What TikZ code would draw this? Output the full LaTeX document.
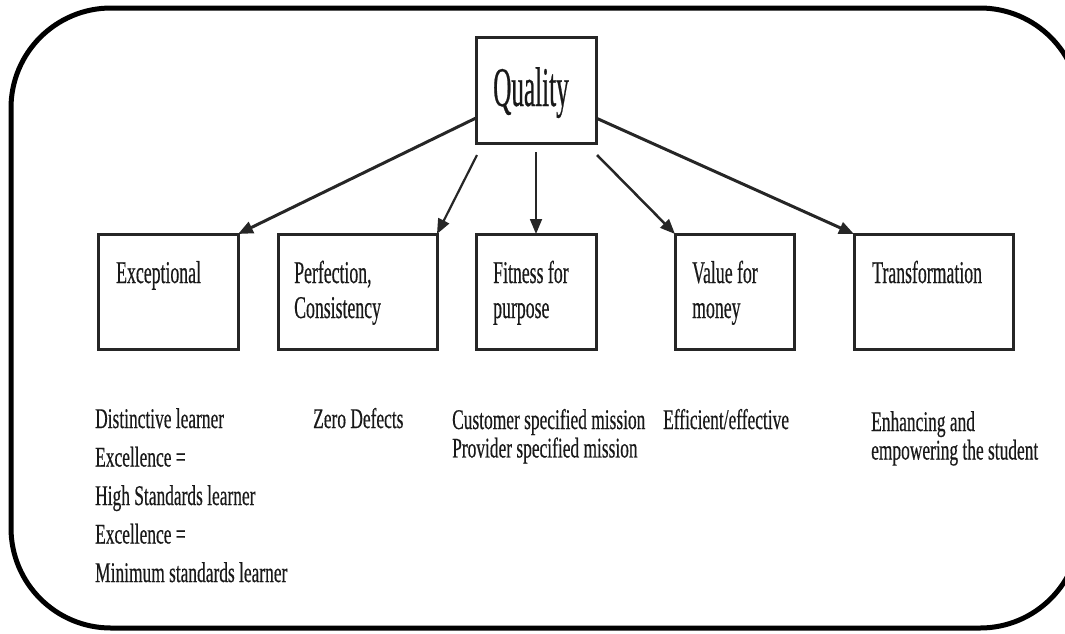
\documentclass[tikz,border=0pt]{standalone}
\usepackage{fontspec}
\setmainfont{Liberation Serif}
\newfontfamily\titlefont[FakeStretch=0.45,FakeBold=0.4]{Liberation Serif}
\newfontfamily\boxfont[FakeStretch=0.56,FakeBold=0.4]{Liberation Serif}
\newfontfamily\notefont[FakeStretch=0.61,FakeBold=0.4]{Liberation Serif}
\usetikzlibrary{arrows.meta,calc}

\tikzset{
  frame/.style={draw=black, line width=5pt, rounded corners=100pt},
  catbox/.style={draw=black!85, line width=3pt, inner sep=0pt, outer sep=0pt,
    minimum height=115pt},
  topbox/.style={draw=black!85, line width=3pt, inner sep=0pt, outer sep=0pt,
    minimum width=120pt, minimum height=106pt},
  boxlabel/.style={anchor=base west, inner sep=0pt, text=black!90,
    font=\boxfont\fontsize{31.7}{35}\selectfont},
  note/.style={anchor=base west, inner sep=0pt, text=black!90},
  link/.style={draw=black!85, -{Triangle[length=15pt,width=12pt]}},
}

\begin{document}
\begin{tikzpicture}[x=1pt,y=-1pt]
\useasboundingbox (0,0) rectangle (1065,633);
\clip (0,0) rectangle (1065,633);

% outer rounded frame (right edge runs past the page)
\draw[frame] (11,8) rectangle (1080,628);

% top concept
\node[topbox] (quality) at (536,90) {};
\node[anchor=base west, inner sep=0pt, text=black!90,
  font=\titlefont\fontsize{56}{60}\selectfont] (qlabel) at (493,106) {Quality};

% five conceptions of quality
\node[catbox, minimum width=140pt] (exc)   at (168,291.5) {};
\node[catbox, minimum width=159pt] (perf)  at (357.5,291.5) {};
\node[catbox, minimum width=120pt] (fit)   at (536,291.5) {};
\node[catbox, minimum width=119pt] (val)   at (734.5,291.5) {};
\node[catbox, minimum width=159pt] (trans) at (933.5,291.5) {};

\node[boxlabel] (excl)   at (116,283) {Exceptional};
\node[boxlabel] (perfl)  at (294,283) {\begin{tabular}[t]{@{}l@{}}Perfection,\\Consistency\end{tabular}};
\node[boxlabel] (fitl)   at (493,283) {\begin{tabular}[t]{@{}l@{}}Fitness for\\purpose\end{tabular}};
\node[boxlabel] (vall)   at (692,283) {\begin{tabular}[t]{@{}l@{}}Value for\\money\end{tabular}};
\node[boxlabel] (transl) at (872,283) {Transformation};

% connectors
\draw[link, line width=3pt]   ($(quality.south west)+(0,-25)$) -- (exc.north east);
\draw[link, line width=2.2pt] ($(quality.south west)+(1,12)$)  -- (perf.north east);
\draw[link, line width=1.8pt] ($(quality.south)+(0,9)$)        -- (fit.north);
\draw[link, line width=2.5pt] ($(quality.south east)+(1,12)$)  -- (val.north west);
\draw[link, line width=3pt]   ($(quality.south east)+(0,-25)$) -- (trans.north west);

% descriptions under each box
\node[note, font=\notefont\fontsize{28.5}{38.5}\selectfont] (excn) at (95,428)
  {\begin{tabular}[t]{@{}l@{}}Distinctive learner\\Excellence =\\High Standards learner\\Excellence =\\Minimum standards learner\end{tabular}};
\node[note, font=\notefont\fontsize{28.5}{28}\selectfont] (perfn) at (313,428) {Zero Defects};
\node[note, font=\notefont\fontsize{28.5}{28}\selectfont] (fitn) at (452,429)
  {\begin{tabular}[t]{@{}l@{}}Customer specified mission\\Provider specified mission\end{tabular}};
\node[note, font=\notefont\fontsize{28.5}{28}\selectfont] (valn) at (663,429) {Efficient/effective};
\node[note, font=\notefont\fontsize{28.5}{28.5}\selectfont] (transn) at (871,431)
  {\begin{tabular}[t]{@{}l@{}}Enhancing and\\empowering the student\end{tabular}};
\end{tikzpicture}
\end{document}
